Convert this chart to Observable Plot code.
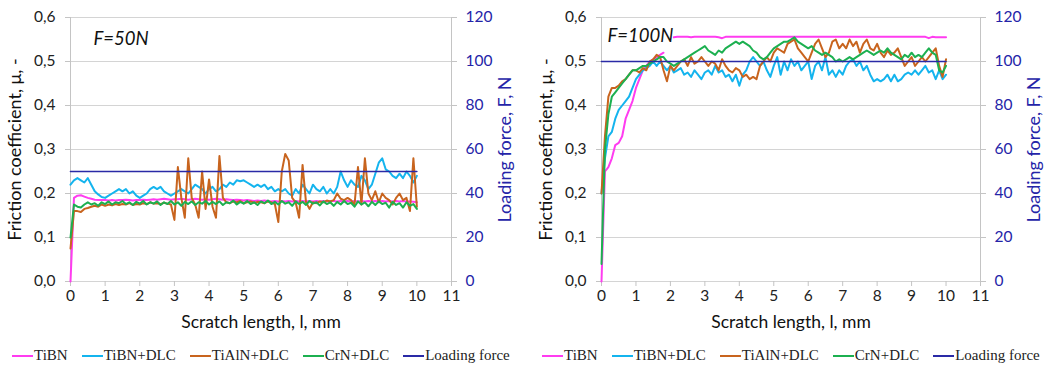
<!DOCTYPE html>
<html>
<head>
<meta charset="utf-8">
<script src="https://cdn.jsdelivr.net/npm/d3@7"></script>
<script src="https://cdn.jsdelivr.net/npm/@observablehq/plot@0.6"></script>
<style>
  html, body { margin: 0; padding: 0; background: #fff; }
  #wrap { display: flex; width: 1063px; height: 367px; overflow: hidden; }
  .panel { position: relative; }
  .legend { position: absolute; top: 347px; left: 12px; display: flex; gap: 14px;
            font-family: "Liberation Serif", "DejaVu Serif", serif; font-size: 15px; color: #222; white-space: nowrap; }
  .legend span.item { display: inline-flex; align-items: center; }
  .legend span.sw { display: inline-block; width: 21px; height: 0; border-top: 2px solid; margin-right: 1px; }
</style>
</head>
<body>
<div id="wrap"></div>
<script>
// ---------- data ----------
const xs = d3.range(0, 101).map(i => +(i * 0.1).toFixed(1)); // scratch length, mm (0..10 step 0.1)
const xTicks = [0,1,2,3,4,5,6,7,8,9,10,11];
const muTicks = [0, 0.1, 0.2, 0.3, 0.4, 0.5, 0.6];
const forceTicks = [0, 20, 40, 60, 80, 100, 120];
const seriesNames = ["TiBN", "TiBN+DLC", "TiAlN+DLC", "CrN+DLC", "Loading force"];
const seriesColors = ["#ff3cf0", "#14b4ee", "#c8641e", "#1cb050", "#2a2aa6"];
const panelLabels = ["F=50N", "F=100N"];
const loadX = [0, 10];
const load50 = [50, 50];
const load100 = [100, 100];

// F = 50 N
const f50_TiBN = [0.000,0.190,0.195,0.196,0.193,0.190,0.188,0.186,0.185,0.185,
  0.185,0.184,0.185,0.184,0.185,0.185,0.186,0.185,0.184,0.185,
  0.185,0.186,0.185,0.186,0.187,0.186,0.187,0.188,0.187,0.186,
  0.187,0.187,0.188,0.187,0.186,0.187,0.188,0.187,0.186,0.187,
  0.186,0.187,0.188,0.187,0.186,0.187,0.186,0.185,0.186,0.185,
  0.184,0.185,0.184,0.183,0.184,0.183,0.184,0.183,0.182,0.183,
  0.182,0.183,0.182,0.183,0.182,0.183,0.182,0.183,0.182,0.183,
  0.182,0.183,0.182,0.183,0.182,0.183,0.183,0.182,0.183,0.182,
  0.183,0.182,0.183,0.182,0.183,0.182,0.183,0.182,0.183,0.182,
  0.183,0.182,0.183,0.182,0.183,0.182,0.183,0.182,0.182,0.181,0.180];
const f50_TiBNDLC = [0.220,0.230,0.235,0.230,0.225,0.235,0.220,0.205,0.198,0.192,
  0.190,0.195,0.200,0.205,0.210,0.205,0.210,0.200,0.205,0.195,
  0.190,0.195,0.200,0.210,0.215,0.210,0.215,0.205,0.200,0.195,
  0.200,0.205,0.210,0.205,0.200,0.210,0.220,0.215,0.210,0.200,
  0.210,0.215,0.205,0.210,0.220,0.215,0.225,0.220,0.230,0.228,
  0.230,0.225,0.220,0.215,0.220,0.215,0.220,0.210,0.215,0.205,
  0.210,0.205,0.210,0.200,0.195,0.210,0.200,0.220,0.210,0.200,
  0.220,0.210,0.205,0.215,0.200,0.210,0.200,0.215,0.250,0.230,
  0.215,0.230,0.220,0.215,0.240,0.230,0.210,0.220,0.245,0.270,
  0.280,0.255,0.250,0.240,0.235,0.245,0.235,0.250,0.240,0.225,0.240];
const f50_TiAlNDLC = [0.075,0.160,0.160,0.158,0.165,0.167,0.170,0.172,0.170,0.175,
  0.172,0.175,0.173,0.176,0.174,0.176,0.175,0.178,0.174,0.176,
  0.175,0.178,0.176,0.180,0.177,0.178,0.176,0.179,0.177,0.175,
  0.140,0.260,0.190,0.145,0.280,0.190,0.175,0.145,0.250,0.165,
  0.232,0.170,0.145,0.285,0.190,0.180,0.178,0.182,0.180,0.183,
  0.178,0.180,0.182,0.179,0.181,0.180,0.178,0.182,0.180,0.176,
  0.135,0.250,0.290,0.275,0.190,0.180,0.145,0.265,0.180,0.165,
  0.180,0.178,0.182,0.180,0.184,0.182,0.185,0.200,0.188,0.185,
  0.190,0.185,0.175,0.260,0.175,0.280,0.200,0.185,0.205,0.180,
  0.200,0.190,0.185,0.175,0.190,0.200,0.185,0.190,0.160,0.280,0.170];
const f50_CrNDLC = [0.100,0.175,0.170,0.168,0.175,0.180,0.175,0.178,0.172,0.180,
  0.176,0.182,0.175,0.180,0.178,0.183,0.176,0.180,0.174,0.181,
  0.177,0.183,0.175,0.180,0.177,0.182,0.174,0.180,0.176,0.183,
  0.175,0.180,0.172,0.181,0.176,0.182,0.174,0.180,0.177,0.183,
  0.175,0.181,0.176,0.182,0.174,0.180,0.178,0.184,0.175,0.181,
  0.177,0.183,0.176,0.180,0.174,0.182,0.178,0.184,0.176,0.181,
  0.175,0.183,0.177,0.180,0.172,0.182,0.176,0.181,0.174,0.183,
  0.177,0.180,0.173,0.182,0.176,0.180,0.172,0.181,0.175,0.183,
  0.176,0.179,0.170,0.182,0.175,0.180,0.171,0.181,0.174,0.182,
  0.176,0.179,0.168,0.181,0.174,0.178,0.168,0.180,0.172,0.176,0.165];

// F = 100 N
const f100_TiBN = [0.000,0.250,0.260,0.280,0.310,0.315,0.330,0.370,0.390,0.410,
  0.440,0.460,0.480,0.490,0.500,0.505,0.510,0.515,0.520,null,
  null,0.555,0.556,0.556,0.556,0.556,0.555,0.556,0.556,0.556,
  0.556,0.556,0.556,0.556,0.555,0.553,0.556,0.556,0.556,0.556,
  0.556,0.556,0.556,0.556,0.556,0.556,0.556,0.556,0.556,0.556,
  0.556,0.556,0.556,0.556,0.556,0.556,0.556,0.556,0.556,0.556,
  0.556,0.556,0.556,0.556,0.556,0.556,0.556,0.556,0.556,0.556,
  0.556,0.556,0.556,0.556,0.556,0.556,0.556,0.556,0.556,0.556,
  0.556,0.556,0.556,0.556,0.556,0.556,0.556,0.556,0.556,0.556,
  0.556,0.556,0.556,0.556,0.556,0.553,0.556,0.555,0.555,0.555,0.555];
const f100_TiBNDLC = [0.200,0.280,0.330,0.340,0.370,0.390,0.400,0.410,0.420,0.440,
  0.460,0.470,0.480,0.485,0.490,0.500,0.490,0.500,0.490,0.480,
  0.490,0.475,0.480,0.485,0.470,0.475,0.465,0.480,0.470,0.460,
  0.475,0.480,0.470,0.490,0.475,0.480,0.465,0.470,0.455,0.470,
  0.445,0.470,0.480,0.500,0.510,0.500,0.490,0.500,0.480,0.465,
  0.490,0.510,0.470,0.500,0.480,0.505,0.490,0.500,0.480,0.490,
  0.500,0.460,0.490,0.500,0.480,0.510,0.470,0.480,0.465,0.480,
  0.470,0.490,0.500,0.505,0.490,0.500,0.480,0.490,0.470,0.455,
  0.460,0.455,0.460,0.470,0.455,0.470,0.455,0.460,0.470,0.475,
  0.470,0.480,0.470,0.480,0.490,0.475,0.480,0.460,0.480,0.460,0.470];
const f100_TiAlNDLC = [0.200,0.330,0.420,0.440,0.440,0.445,0.455,0.460,0.470,0.480,
  0.480,0.475,0.485,0.480,0.500,0.505,0.515,0.510,0.480,0.455,
  0.490,0.480,0.490,0.500,0.505,0.490,0.510,0.495,0.500,0.510,
  0.500,0.490,0.500,0.495,0.480,0.505,0.490,0.480,0.475,0.485,
  0.480,0.465,0.470,0.460,0.465,0.460,0.490,0.500,0.510,0.500,
  0.520,0.530,0.525,0.520,0.540,0.545,0.550,0.530,0.520,0.510,
  0.500,0.520,0.540,0.550,0.530,0.510,0.520,0.545,0.550,0.530,
  0.540,0.530,0.550,0.535,0.545,0.520,0.540,0.550,0.530,0.525,
  0.540,0.520,0.510,0.525,0.515,0.520,0.530,0.510,0.490,0.500,
  0.510,0.490,0.500,0.510,0.500,0.510,0.520,0.530,0.490,0.465,0.505];
const f100_CrNDLC = [0.040,0.300,0.380,0.420,0.430,0.440,0.450,0.460,0.470,0.480,
  0.480,0.485,0.490,0.490,0.495,0.500,0.505,0.510,0.510,0.500,
  0.495,0.490,0.495,0.500,0.505,0.510,0.515,0.520,0.525,0.530,
  0.535,0.525,0.520,0.515,0.525,0.520,0.530,0.535,0.540,0.545,
  0.540,0.545,0.540,0.535,0.525,0.520,0.510,0.505,0.510,0.520,
  0.530,0.535,0.540,0.545,0.545,0.550,0.555,0.545,0.540,0.535,
  0.530,0.535,0.525,0.520,0.515,0.520,0.515,0.510,0.500,0.505,
  0.500,0.505,0.510,0.505,0.510,0.515,0.520,0.525,0.520,0.515,
  0.520,0.525,0.520,0.530,0.520,0.515,0.510,0.505,0.515,0.510,
  0.520,0.510,0.515,0.510,0.520,0.530,0.520,0.515,0.480,0.475,0.490];

const FORCE_PER_MU = 200; // right axis: 120 N at mu = 0.6

const panels = [
  { label: panelLabels[0], width: 530, ml: 70, mr: 79, ldx: 23, ldy: 14,
    series: [f50_TiBN, f50_TiBNDLC, f50_TiAlNDLC, f50_CrNDLC], load: load50 },
  { label: panelLabels[1], width: 533, ml: 71, mr: 83, ldx: 6, ldy: 11,
    series: [f100_TiBN, f100_TiBNDLC, f100_TiAlNDLC, f100_CrNDLC], load: load100 }
];

const font = "Lato, 'Open Sans', 'DejaVu Sans', sans-serif";
const gridColor = "#d4d4d4";
const axisBlue = "#2424a8";

const wrap = document.getElementById("wrap");
panels.forEach((p, pi) => {
  const rows = [];
  p.series.forEach((vals, si) => {
    vals.forEach((v, i) => rows.push({ s: seriesNames[si], x: xs[i], y: v }));
  });
  const loadRows = loadX.map((x, i) => ({ x, F: p.load[i] }));

  const chart = Plot.plot({
    width: p.width, height: 340,
    marginLeft: p.ml, marginRight: p.mr, marginTop: 17, marginBottom: 59,
    style: { fontFamily: font, background: "white", color: "#222" },
    x: { domain: [0, 11] },
    y: { domain: [0, 0.6] },
    marks: [
      Plot.gridY(muTicks, { stroke: gridColor, strokeOpacity: 1 }),
      Plot.ruleX([0, 11], { stroke: "#c4c4c4" }),
      Plot.axisY(muTicks, { anchor: "left", tickSize: 5, tickPadding: 10, fontSize: 15.5,
        stroke: "#c4c4c4", fill: "#222", label: null,
        tickFormat: d => d.toFixed(1).replace(".", ",") }),
      Plot.axisY(forceTicks.map(f => f / FORCE_PER_MU), { anchor: "right", tickSize: 5, tickPadding: 9, fontSize: 15.5,
        stroke: "#c4c4c4", fill: axisBlue, label: null,
        tickFormat: d => String(Math.round(d * FORCE_PER_MU)) }),
      Plot.axisX(xTicks, { tickSize: 5, tickPadding: 3, fontSize: 15.5, stroke: "#c4c4c4", fill: "#222",
        label: null, tickFormat: d => String(d) }),
      ...seriesNames.slice(0, 4).map((name, si) =>
        Plot.lineY(rows.filter(r => r.s === name), { x: "x", y: "y", stroke: seriesColors[si], strokeWidth: 2 })),
      Plot.lineY(loadRows, { x: "x", y: d => d.F / FORCE_PER_MU, stroke: seriesColors[4], strokeWidth: 1.6 }),
      Plot.text([p.label], { frameAnchor: "top-left", dx: p.ldx, dy: p.ldy,
        fontSize: 18.5, fontStyle: "italic", fill: "#111", textAnchor: "start", lineAnchor: "top" }),
      Plot.text(["Friction coefficient, μ, -"], { frameAnchor: "left", dx: -55, rotate: -90,
        textAnchor: "middle", fontSize: 18, fill: "#111" }),
      Plot.text(["Loading force, F, N"], { frameAnchor: "right", dx: 54, rotate: -90,
        textAnchor: "middle", fontSize: 18, fill: axisBlue }),
      Plot.text(["Scratch length, l, mm"], { frameAnchor: "bottom", dy: 46, textAnchor: "middle",
        fontSize: 17.5, fill: "#111" })
    ]
  });

  const div = document.createElement("div");
  div.className = "panel";
  div.style.width = p.width + "px";
  div.appendChild(chart);
  const leg = document.createElement("div");
  leg.className = "legend";
  seriesNames.forEach((n, i) => {
    const it = document.createElement("span");
    it.className = "item";
    const sw = document.createElement("span");
    sw.className = "sw";
    sw.style.borderTopColor = seriesColors[i];
    it.appendChild(sw);
    it.appendChild(document.createTextNode(n));
    leg.appendChild(it);
  });
  div.appendChild(leg);
  wrap.appendChild(div);
});
</script>
</body>
</html>
